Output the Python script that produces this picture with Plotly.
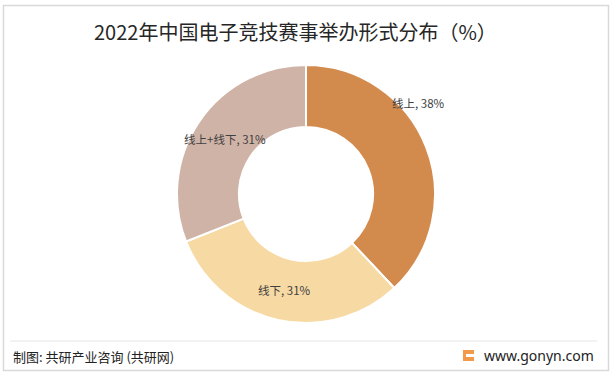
import math
import plotly.graph_objects as go

categories = ["线上", "线下", "线上+线下"]
values = [38, 31, 31]
colors = ["#D38B4D", "#F7D9A3", "#D0B3A7"]

title_text = "2022年中国电子竞技赛事举办形式分布（%）"
source_text = "制图: 共研产业咨询 (共研网)"
site_text = "www.gonyn.com"

W, H = 612, 372
cx, cy, R = 306, 194, 129
hole = 0.52

FONT = "Noto Sans CJK SC, Microsoft YaHei, sans-serif"

fig = go.Figure()
fig.add_trace(go.Pie(
    labels=categories, values=values, sort=False, direction="clockwise", rotation=0,
    hole=hole, marker=dict(colors=colors, line=dict(color="white", width=2)),
    textinfo="none", hoverinfo="label+percent", showlegend=False,
    domain=dict(x=[(cx - R) / W, (cx + R) / W], y=[(H - cy - R) / H, (H - cy + R) / H]),
))

# label placement: (radius factor of outer radius, angle override)
label_pos = {"线上": (1.12, 51.0), "线下": (0.76, None), "线上+线下": (0.76, None)}
total = sum(values)
cum = 0
annotations = []
for cat, v in zip(categories, values):
    mid = (cum + v / 2) / total * 360
    cum += v
    rf, ang = label_pos[cat]
    a = math.radians(ang if ang is not None else mid)
    px = cx + rf * R * math.sin(a)
    py = cy - rf * R * math.cos(a)
    annotations.append(dict(x=px / W, y=1 - py / H, xref="paper", yref="paper",
                            text=f"{cat}, {v}%", showarrow=False,
                            font=dict(size=11.5, color="#404040", family=FONT),
                            xanchor="center", yanchor="middle"))

annotations.append(dict(x=295 / W, y=1 - 31 / H, xref="paper", yref="paper", text=title_text,
                        showarrow=False, xanchor="center", yanchor="middle",
                        font=dict(size=20, color="#262626", family=FONT)))
annotations.append(dict(x=11 / W, y=1 - 356 / H, xref="paper", yref="paper", text=source_text,
                        showarrow=False, xanchor="left", yanchor="middle",
                        font=dict(size=13, color="#222222", family=FONT)))
annotations.append(dict(x=596 / W, y=1 - 355 / H, xref="paper", yref="paper", text=site_text,
                        showarrow=False, xanchor="right", yanchor="middle",
                        font=dict(size=14, color="#222222", family="Noto Sans, Arial, sans-serif")))

shapes = [
    dict(type="rect", xref="paper", yref="paper", x0=3.5 / W, x1=608.5 / W, y0=1 - 370.5 / H, y1=1 - 5.5 / H,
         line=dict(color="#D9D9D9", width=1.5), fillcolor="rgba(0,0,0,0)"),
    dict(type="line", xref="paper", yref="paper", x0=10 / W, x1=597 / W, y0=1 - 341 / H, y1=1 - 341 / H,
         line=dict(color="#E6E6E6", width=1)),
    dict(type="rect", xref="paper", yref="paper", x0=463 / W, x1=474 / W, y0=1 - 361 / H, y1=1 - 350 / H,
         line=dict(width=0), fillcolor="#F39A4A"),
    dict(type="rect", xref="paper", yref="paper", x0=466 / W, x1=474 / W, y0=1 - 357 / H, y1=1 - 354 / H,
         line=dict(width=0), fillcolor="#FFFFFF"),
]

fig.update_layout(width=W, height=H, margin=dict(l=0, r=0, t=0, b=0),
                  paper_bgcolor="white", plot_bgcolor="white",
                  annotations=annotations, shapes=shapes)
fig.write_html("out.html", config={"displayModeBar": False},
               post_script="document.body.style.margin='0px';document.body.style.padding='0px';document.body.style.overflow='hidden';")
